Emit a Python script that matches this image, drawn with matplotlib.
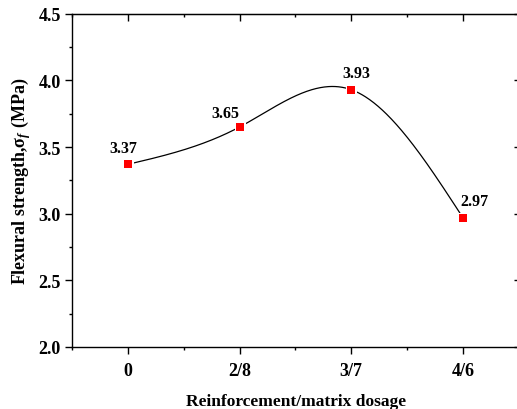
import numpy as np
import matplotlib
matplotlib.use('Agg')
import matplotlib.pyplot as plt
from matplotlib.ticker import MultipleLocator

# data
dosage = ['0', '2/8', '3/7', '4/6']
strength = [3.37, 3.65, 3.93, 2.97]
label_offsets = [(-3, 6), (-10, 4), (4, 6), (8, 6)]  # offset points for value labels

plt.rcParams['font.family'] = 'Liberation Serif'
plt.rcParams['font.weight'] = 'bold'
plt.rcParams['mathtext.fontset'] = 'custom'
plt.rcParams['mathtext.rm'] = 'Liberation Serif:bold'
plt.rcParams['mathtext.it'] = 'Liberation Serif:italic:bold'
plt.rcParams['mathtext.bf'] = 'Liberation Serif:bold'


def natural_spline(x, y, xs):
    # natural cubic spline, like the smooth line in Origin
    x = np.asarray(x, float)
    y = np.asarray(y, float)
    n = len(x)
    h = np.diff(x)
    A = np.zeros((n, n))
    b = np.zeros(n)
    A[0, 0] = 1
    A[-1, -1] = 1
    for i in range(1, n - 1):
        A[i, i - 1] = h[i - 1]
        A[i, i] = 2 * (h[i - 1] + h[i])
        A[i, i + 1] = h[i]
        b[i] = 6 * ((y[i + 1] - y[i]) / h[i] - (y[i] - y[i - 1]) / h[i - 1])
    M = np.linalg.solve(A, b)
    out = np.empty_like(xs)
    for k, xv in enumerate(xs):
        i = min(np.searchsorted(x, xv, side='right') - 1, n - 2)
        i = max(i, 0)
        t1 = x[i + 1] - xv
        t0 = xv - x[i]
        out[k] = (M[i] * t1**3 + M[i + 1] * t0**3) / (6 * h[i]) \
            + (y[i] / h[i] - M[i] * h[i] / 6) * t1 \
            + (y[i + 1] / h[i] - M[i + 1] * h[i] / 6) * t0
    return out


xpos = np.arange(len(dosage))
xs = np.linspace(xpos[0], xpos[-1], 400)
ys = natural_spline(xpos, strength, xs)

fig = plt.figure(figsize=(5.17, 4.10), dpi=100)
ax = fig.add_axes([72 / 517, 1 - 348 / 410, 449 / 517, (348 - 14.7) / 410])

ax.plot(xs, ys, color='black', linewidth=0.9, zorder=2)
ax.plot(xpos, strength, 's', color='red', markersize=6,
        markeredgecolor='white', markeredgewidth=2.2, zorder=3)
ax.plot(xpos, strength, 's', color='red', markersize=5.8,
        markeredgewidth=0, zorder=4)

for xv, yv, off in zip(xpos, strength, label_offsets):
    ax.annotate(f'{yv:.2f}', (xv, yv), xytext=off, textcoords='offset points',
                ha='center', va='bottom', fontsize=11.5, fontweight='bold')

# right edge of the frame falls just outside the picture
ax.set_xlim(-0.5, 3.52)
ax.set_ylim(2.0, 4.5)
ax.set_xticks(xpos)
ax.set_xticklabels(dosage)
ax.set_xticks([-0.5, 0.5, 1.5, 2.5, 3.5], minor=True)
ax.yaxis.set_major_locator(MultipleLocator(0.5))
ax.yaxis.set_minor_locator(MultipleLocator(0.25))
ax.yaxis.set_major_formatter(matplotlib.ticker.FormatStrFormatter('%.1f'))

ax.tick_params(which='both', direction='out', top=False, right=False,
               labelsize=13, width=1)
ax.tick_params(which='major', length=5)
ax.tick_params(which='minor', length=2.5)
ax.tick_params(axis='x', which='major', pad=6)
ax.tick_params(axis='y', which='major', pad=3)
for s in ax.spines.values():
    s.set_linewidth(1)
ax.spines['right'].set_visible(False)

# mirrored inward ticks on top and right, like Origin
axt = ax.secondary_xaxis('top')
axt.set_xticks(xpos)
axt.set_xticks([-0.5, 0.5, 1.5, 2.5, 3.5], minor=True)
axt.tick_params(which='both', direction='in', labeltop=False, width=1)
axt.tick_params(which='major', length=5)
axt.tick_params(which='minor', length=2.5)
axr = ax.secondary_yaxis('right')
axr.yaxis.set_major_locator(MultipleLocator(0.5))
axr.yaxis.set_minor_locator(MultipleLocator(0.25))
axr.tick_params(which='both', direction='in', labelright=False, width=1)
axr.tick_params(which='major', length=5)
axr.tick_params(which='minor', length=2.5)
axr.spines['right'].set_visible(False)

ax.set_xlabel('Reinforcement/matrix dosage', fontsize=12.5, fontweight='bold', labelpad=10)
ax.set_ylabel(r'Flexural strength,σ$_f$ (MPa)', fontsize=13, fontweight='bold', labelpad=4)

fig.savefig('out.png', dpi=100)
